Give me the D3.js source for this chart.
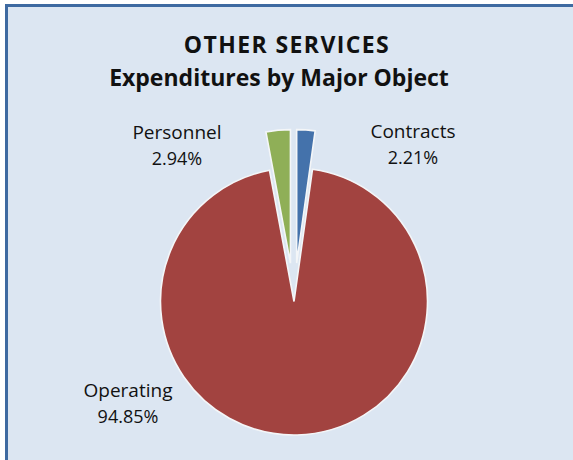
<!DOCTYPE html>
<html>
<head>
<meta charset="utf-8">
<script src="https://cdn.jsdelivr.net/npm/d3@7"></script>
<style>
  html, body { margin: 0; padding: 0; background: #ffffff; }
  svg { display: block; }
  text { font-family: "Open Sans", "Noto Sans", sans-serif; fill: #111; }
</style>
</head>
<body>
<svg id="chart" width="573" height="460"></svg>
<script>
// Expenditure shares by major object, clockwise from 12 o'clock
const categories = ["Contracts", "Operating", "Personnel"];
const shares = [2.21, 94.85, 2.94];
const titleLines = ["OTHER SERVICES", "Expenditures by Major Object"];

// Styling and layout
const sliceColors = ["#4472ab", "#a24340", "#8faf57"];
const W = 573, H = 460;
const cx = 294, cy = 301.5, R = 133.5;
const explodePx = { Contracts: 38.5, Operating: 0, Personnel: 38.5 };
const titleX = [287, 279];
// label anchors (first baseline) relative to the pie centre
const labelOffset = {
  Contracts: [119, -164],
  Personnel: [-117, -163],
  Operating: [-166, 95]
};

const svg = d3.select("#chart");

// frame
svg.append("rect")
  .attr("x", 6.5).attr("y", 5.5)
  .attr("width", W + 10).attr("height", H + 10)
  .attr("fill", "#dce6f2")
  .attr("stroke", "#3e6aa1")
  .attr("stroke-width", 3);

// title
svg.append("g").selectAll("text")
  .data(titleLines)
  .join("text")
  .attr("x", (d, i) => titleX[i])
  .attr("y", (d, i) => 53 + i * 33)
  .attr("text-anchor", "middle")
  .attr("font-weight", "bold")
  .attr("font-size", 23)
  .attr("letter-spacing", (d, i) => i === 0 ? 1.4 : 0)
  .text(d => d);

const rows = categories.map((c, i) => ({ name: c, value: shares[i], color: sliceColors[i] }));

const pie = d3.pie().sort(null).value(d => d.value);
const arc = d3.arc().innerRadius(0).outerRadius(R);
const arcs = pie(rows);

const g = svg.append("g").attr("transform", `translate(${cx},${cy})`);

g.selectAll("path")
  .data(arcs)
  .join("path")
  .attr("transform", d => {
    const mid = (d.startAngle + d.endAngle) / 2;
    const e = explodePx[d.data.name];
    return `translate(${e * Math.sin(mid)},${-e * Math.cos(mid)})`;
  })
  .attr("d", arc)
  .attr("fill", d => d.data.color)
  .attr("stroke", "#f4f6f8")
  .attr("stroke-width", 1.6)
  .attr("stroke-linejoin", "miter");

// data labels: category name and share
const labels = g.selectAll("g.label")
  .data(arcs)
  .join("g")
  .attr("class", "label")
  .attr("transform", d => `translate(${labelOffset[d.data.name][0]},${labelOffset[d.data.name][1]})`);

labels.append("text")
  .attr("text-anchor", "middle")
  .attr("font-size", 19)
  .text(d => d.data.name);

labels.append("text")
  .attr("text-anchor", "middle")
  .attr("y", 26)
  .attr("font-size", 18)
  .text(d => d.data.value.toFixed(2) + "%");
</script>
</body>
</html>
